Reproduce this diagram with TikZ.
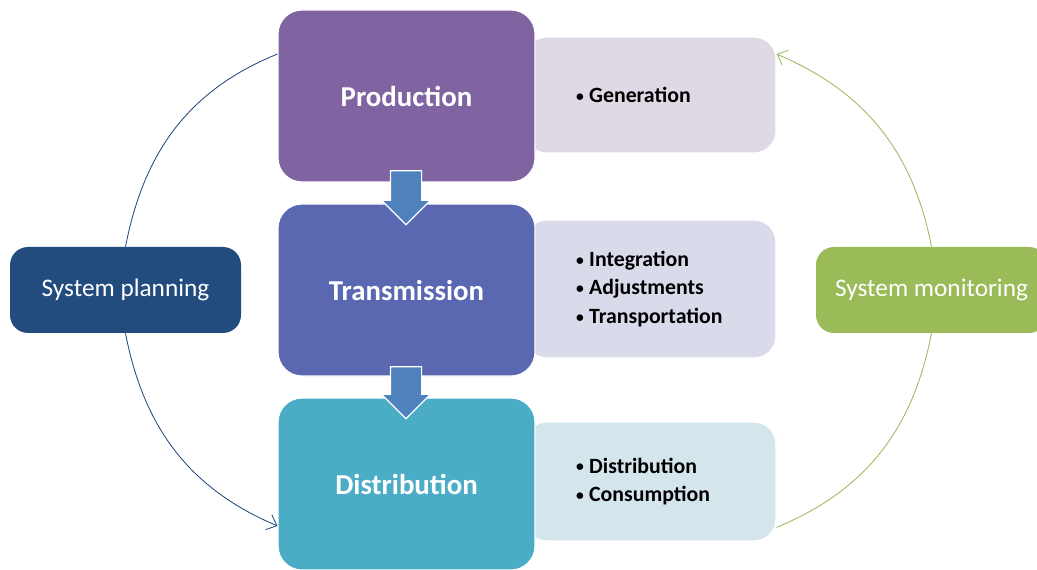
\documentclass[tikz,border=0pt]{standalone}
\usepackage{fontspec}
\setmainfont{Carlito}
\usetikzlibrary{positioning, arrows.meta, shapes.arrows}
\definecolor{prodcol}{HTML}{8064A2}
\definecolor{transcol}{HTML}{5A67B1}
\definecolor{distcol}{HTML}{4BACC6}
\definecolor{prodlite}{HTML}{DFD8E5}
\definecolor{translite}{HTML}{D9DAEA}
\definecolor{distlite}{HTML}{D4E5EC}
\definecolor{plancol}{HTML}{224B7E}
\definecolor{moncol}{HTML}{9BBB59}
\definecolor{arrcol}{HTML}{4F81BD}
\tikzset{>={Straight Barb[length=2.2mm,width=4mm]},
stage/.style={rounded corners=0.6cm, draw=white, thick, text=white,
  font=\fontsize{20.5}{24}\bfseries\selectfont, minimum width=6.425cm, minimum height=4.3cm},
detail/.style={rounded corners=0.55cm, draw=white, thick, text width=3.725cm, inner xsep=0pt,
  align=left, minimum width=6.275cm, font=\fontsize{15.5}{20.3}\bfseries\selectfont},
side/.style={rounded corners=0.45cm, text=white, minimum width=5.775cm, minimum height=2.15cm,
  font=\fontsize{18}{22}\selectfont},
flow/.style={single arrow, fill=arrcol, draw=white, thick, shape border rotate=270,
  minimum height=1.35cm, single arrow head extend=0.225cm, inner sep=0.375cm},
link/.style={line width=0.6pt},
}
\newcommand{\itm}[1]{\makebox[0.33cm][l]{\raisebox{0.12ex}{\fontsize{11}{11}\selectfont\textbullet}}#1}

\begin{document}
\begin{tikzpicture}
\useasboundingbox (0,0) rectangle (25.925,14.225);
    % light boxes behind the stages
    \node[detail, fill=prodlite, minimum height=2.9cm] (psub) at (16.2625,11.85) {\itm{Generation}};
    \node[detail, fill=translite, minimum height=3.45cm] (tsub) at (16.2625,7.0)
        {\itm{Integration}\\\itm{Adjustments}\\\itm{Transportation}};
    \node[detail, fill=distlite, minimum height=2.975cm] (dsub) at (16.2625,2.1875)
        {\itm{Distribution}\\\itm{Consumption}};

    \node[stage, fill=prodcol] (prod) at (10.1625,11.825) {Production};
    \node[stage, fill=transcol] (trans) at (10.1625,6.975) {Transmission};
    \node[stage, fill=distcol] (dist) at (10.1625,2.125) {Distribution};

    \node[flow] (arr1) at (10.15,9.475) {};
    \node[flow, minimum height=1.3cm] (arr2) at (10.15,4.6) {};

    \node[side, fill=plancol] (plan) at (3.1375,6.975) {System planning};
    \node[side, fill=moncol] (mon) at (23.2875,6.975) {System monitoring};

    \draw[plancol, link]
    (prod.162) to[out=202, in=79] (plan.north);
    \draw[plancol, link, ->]
    (plan.south) to[out=281, in=157] (dist.198);
    \draw[moncol, link]
    (dsub.340) to[out=22.5, in=259] (mon.south);
    \draw[moncol, link, ->]
    (mon.north) to[out=101, in=337] (psub.18);
\end{tikzpicture}
\end{document}
